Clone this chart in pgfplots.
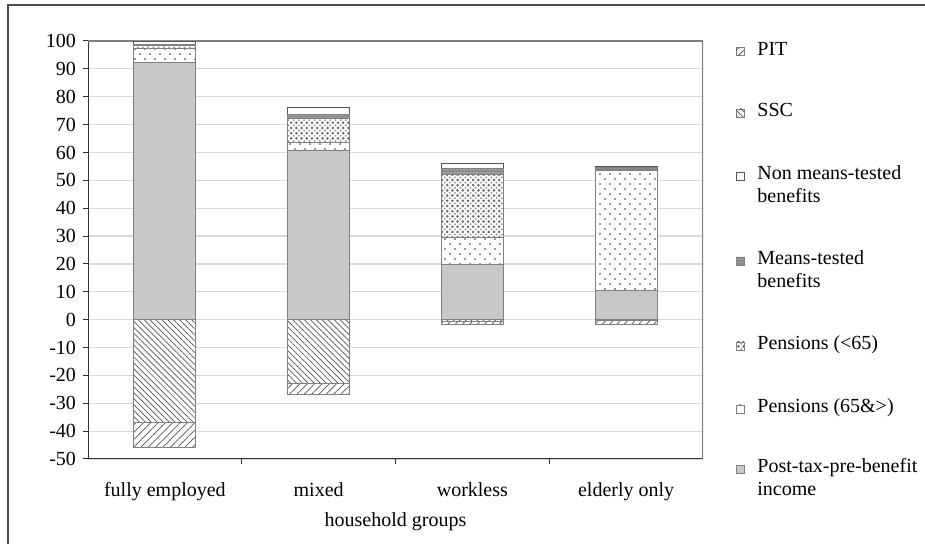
\documentclass[border=0pt]{standalone}
\usepackage{fontspec}
\setmainfont{Liberation Serif}
\usepackage{pgfplots}
\pgfplotsset{compat=1.18}
\usetikzlibrary{patterns.meta}

\definecolor{postgray}{RGB}{200,200,200}
\definecolor{edge}{RGB}{128,128,128}
\definecolor{hatch}{RGB}{85,85,85}
\definecolor{meansgray}{RGB}{140,140,140}
\definecolor{gridgray}{RGB}{217,217,217}

\tikzset{
  pit/.style={draw=edge, fill=white, postaction={pattern={Lines[angle=45,distance=2.6pt,line width=0.35pt]}, pattern color=hatch}},
  ssc/.style={draw=edge, fill=white, postaction={pattern={Lines[angle=-45,distance=2.1pt,line width=0.35pt]}, pattern color=hatch}},
  nonmeans/.style={draw=hatch, fill=white},
  means/.style={draw=edge, fill=meansgray, postaction={pattern={Dots[distance=1.6pt,radius=0.3pt]}, pattern color=gray!45}},
  penyoung/.style={draw=edge, fill=white,
    postaction={pattern={Dots[distance=2.6pt,radius=0.75pt]}, pattern color=black!55},
    postaction={pattern={Dots[distance=2.6pt,radius=0.55pt,xshift=1.3pt,yshift=1.3pt]}, pattern color=black!40}},
  penold/.style={draw=edge, fill=white,
    postaction={pattern={Dots[distance=5pt,radius=0.45pt]}, pattern color=black!80},
    postaction={pattern={Dots[distance=5pt,radius=0.45pt,xshift=2.5pt,yshift=2.5pt]}, pattern color=black!80}},
  post/.style={draw=edge, fill=postgray},
}

\pgfplotsset{
  frame/.style={
    at={(0,0)}, anchor=south west,
    width=307.5pt, height=209pt, scale only axis,
    ybar stacked, bar width=31pt,
    xmin=-0.5, xmax=3.5,
    ymin=-50, ymax=100,
  },
}

% legend swatch + first line of text
\newcommand\legentry[3]{%
  \draw[#1, line width=0.4pt] (324pt,#2) rectangle ++(4pt,4pt);
  \node[anchor=base west, inner sep=0pt] at (334.5pt,#2) {#3};}

\begin{document}
\begin{tikzpicture}
\useasboundingbox (-44pt,-42.5pt) rectangle (418.5pt,229.5pt);
\draw[black!70, line width=0.6pt] (-40pt,-60pt) -- (-40pt,227pt) -- (440pt,227pt);

% positive part, bottom to top
\begin{axis}[
    frame,
    xtick={0,1,2,3},
    xticklabels={fully employed, mixed, workless, elderly only},
    minor xtick={0.5,1.5,2.5},
    ytick={-50,-40,...,100},
    ymajorgrids=true,
    grid style={gridgray, line width=0.6pt},
    axis x line*=bottom, axis y line*=left,
    axis line style={black!80, line width=0.5pt, -},
    tick align=outside,
    major tick length=2.5pt, minor tick length=2.5pt,
    major x tick style={draw=none},
    minor x tick style={black!80, line width=0.5pt},
    y tick style={black!80, line width=0.5pt},
    tick label style={font=\fontsize{10}{12}\selectfont},
    /pgf/number format/assume math mode=true,
    xticklabel style={anchor=base, yshift=-16.5pt},
    yticklabel style={anchor=east},
    xlabel={household groups},
    xlabel style={font=\fontsize{10}{12}\selectfont, anchor=base, at={(axis description cs:0.5,0)}, yshift=-34pt},
]
\addplot[post] coordinates {(0,92.4) (1,60.9) (2,20.0) (3,10.5)};
\addplot[penold] coordinates {(0,5.0) (1,2.8) (2,9.4) (3,43.2)};
\addplot[penyoung] coordinates {(0,1.0) (1,8.7) (2,22.9) (3,0.3)};
\addplot[means] coordinates {(0,0.3) (1,1.1) (2,2.1) (3,0.5)};
\addplot[nonmeans] coordinates {(0,1.3) (1,2.5) (2,1.8) (3,0.4)};
\draw[edge, line width=0.6pt] (rel axis cs:0,1) -- (rel axis cs:1,1) -- (rel axis cs:1,0);
\end{axis}

% negative part: SSC, then PIT below it
\begin{axis}[frame, hide axis]
\addplot[ssc] coordinates {(0,-37) (1,-22.7) (2,-0.6) (3,-0.3)};
\addplot[pit] coordinates {(0,-9) (1,-4.1) (2,-1.2) (3,-1.3)};
\end{axis}

\legentry{pit}{201.6pt}{PIT}
\legentry{ssc}{171pt}{SSC}
\legentry{nonmeans}{139.5pt}{Non means-tested}
\node[anchor=base west, inner sep=0pt] at (334.5pt,128pt) {benefits};
\legentry{means}{97pt}{Means-tested}
\node[anchor=base west, inner sep=0pt] at (334.5pt,85.5pt) {benefits};
\legentry{penyoung}{54.5pt}{Pensions (<65)}
\legentry{penold}{23pt}{Pensions (65\&>)}
\legentry{post}{-7pt}{Post-tax-pre-benefit}
\node[anchor=base west, inner sep=0pt] at (334.5pt,-18.5pt) {income};
\end{tikzpicture}
\end{document}
